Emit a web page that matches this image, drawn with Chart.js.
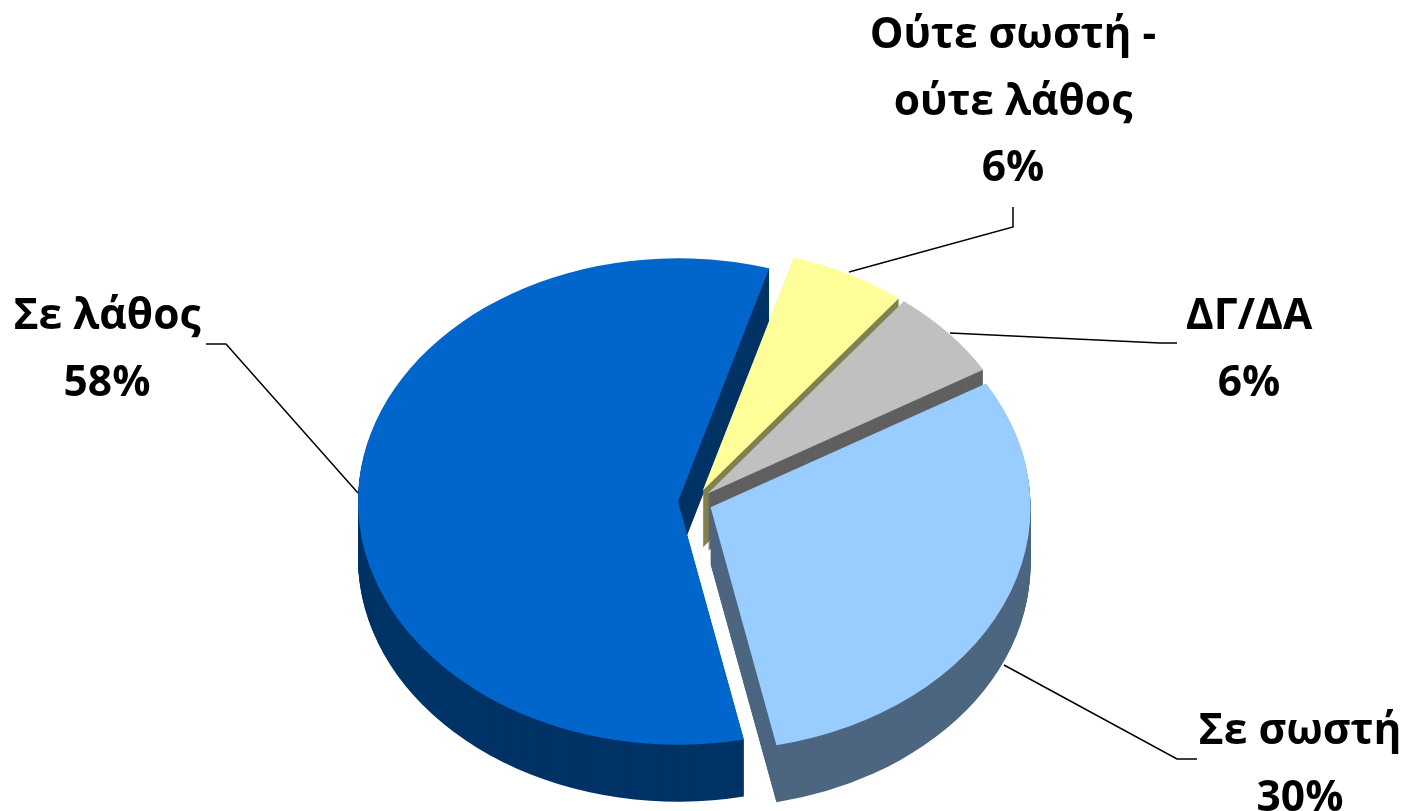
<!DOCTYPE html>
<html>
<head>
<meta charset="utf-8">
<script src="https://cdn.jsdelivr.net/npm/chart.js@4"></script>
<style>
  html, body { margin: 0; padding: 0; background: #fff; overflow: hidden; }
  #wrap { width: 1402px; height: 811px; }
</style>
</head>
<body>
<div id="wrap"><canvas id="myChart"></canvas></div>
<script>
const categories = ['Σε σωστή', 'Σε λάθος', 'Ούτε σωστή - ούτε λάθος', 'ΔΓ/ΔΑ'];
const values = [30.2, 57.9, 5.9, 6];
const topColors = ['#99ccff', '#0066cc', '#ffff99', '#c0c0c0'];
const sideColors = ['#4d6680', '#003366', '#808050', '#606060'];

// painter's order, back slices first
const drawOrder = [1, 2, 3, 0];

const squash = 0.76;
const depth = 57;
const explode = 17;
const centerY = 502;

// text lines + leader line for each category
const labelLines = [['Σε σωστή'], ['Σε λάθος'], ['Ούτε σωστή -', 'ούτε λάθος'], ['ΔΓ/ΔΑ']];
const labelCenters = [[1300, 732], [107, 317], [1013, 36], [1249, 317]];
const leaders = [
  [[1004, 665], [1177, 759], [1197, 759]],
  [[358, 493], [226, 344], [206, 344]],
  [[849, 272], [1013, 227], [1013, 207]],
  [[950, 333], [1160, 343], [1177, 343]]
];
const lineHeight = 66.5;

function inPie(ctx, arc, drop, fn) {
  const mid = (arc.startAngle + arc.endAngle) / 2;
  ctx.save();
  ctx.translate(0, centerY + drop);
  ctx.scale(1, squash);
  ctx.translate(0, -arc.y);
  ctx.translate(Math.cos(mid) * explode, Math.sin(mid) * explode);
  fn();
  ctx.restore();
}

const pie3d = {
  id: 'pie3d',
  beforeDatasetsDraw(chart) {
    const ctx = chart.ctx;
    const arcs = chart.getDatasetMeta(0).data;
    drawOrder.forEach((i) => {
      const arc = arcs[i];
      for (let d = depth; d > 0; d--) {
        inPie(ctx, arc, d, () => {
          ctx.fillStyle = sideColors[i];
          ctx.beginPath();
          ctx.moveTo(arc.x, arc.y);
          ctx.arc(arc.x, arc.y, arc.outerRadius, arc.startAngle, arc.endAngle);
          ctx.closePath();
          ctx.fill();
        });
      }
      inPie(ctx, arc, 0, () => arc.draw(ctx));
    });
    return false;
  },
  afterDraw(chart) {
    const ctx = chart.ctx;
    ctx.save();
    ctx.strokeStyle = '#000';
    ctx.lineWidth = 1.5;
    leaders.forEach((pts) => {
      ctx.beginPath();
      pts.forEach((p, j) => j ? ctx.lineTo(p[0], p[1]) : ctx.moveTo(p[0], p[1]));
      ctx.stroke();
    });
    ctx.fillStyle = '#000';
    ctx.font = 'bold 42.5px "Open Sans"';
    ctx.textAlign = 'center';
    ctx.textBaseline = 'middle';
    categories.forEach((cat, i) => {
      const lines = labelLines[i].concat(`${Math.round(values[i])}%`);
      lines.forEach((line, j) => {
        ctx.fillText(line, labelCenters[i][0], labelCenters[i][1] + j * lineHeight);
      });
    });
    ctx.restore();
  }
};

new Chart(document.getElementById('myChart'), {
  type: 'pie',
  data: {
    labels: categories,
    datasets: [{
      data: values,
      backgroundColor: topColors,
      borderWidth: 0,
      radius: 320,
      rotation: 59.4
    }]
  },
  options: {
    responsive: true,
    maintainAspectRatio: false,
    animation: false,
    layout: { padding: { right: 12 } },
    plugins: {
      legend: { display: false },
      tooltip: { enabled: false }
    }
  },
  plugins: [pie3d]
});
</script>
</body>
</html>
